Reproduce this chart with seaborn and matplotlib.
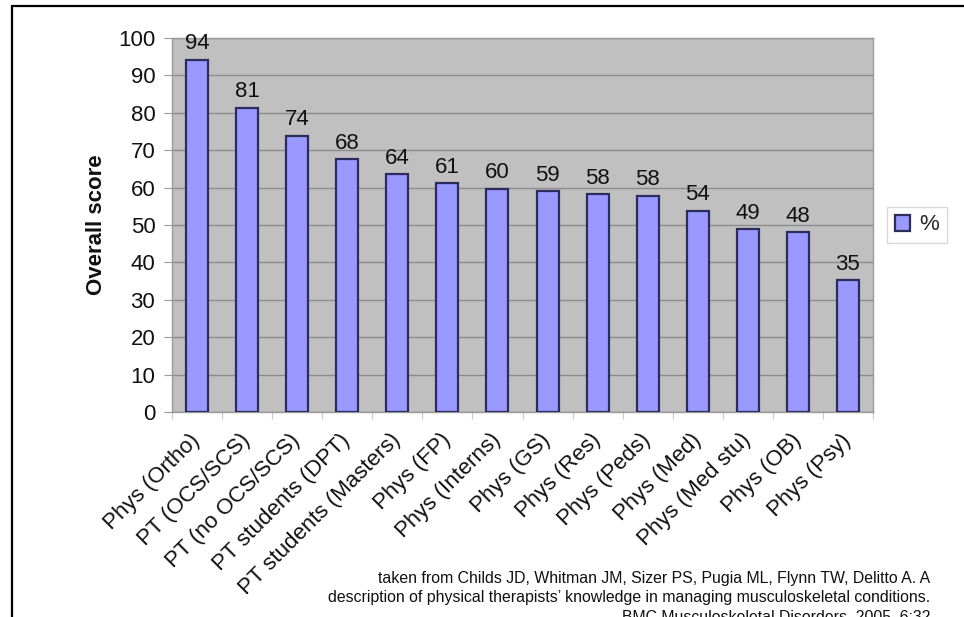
import matplotlib
matplotlib.use("Agg")
import matplotlib.pyplot as plt
import seaborn as sns
import pandas as pd
import numpy as np
from matplotlib.lines import Line2D

categories = ["Phys (Ortho)", "PT (OCS/SCS)", "PT (no OCS/SCS)", "PT students (DPT)",
              "PT students (Masters)", "Phys (FP)", "Phys (Interns)", "Phys (GS)",
              "Phys (Res)", "Phys (Peds)", "Phys (Med)", "Phys (Med stu)", "Phys (OB)",
              "Phys (Psy)"]
values = [94.2, 81.3, 73.9, 67.6, 63.6, 61.1, 59.7, 59.0, 58.2, 57.8, 53.8, 48.8, 48.0, 35.2]
series = ["%"] * len(categories)
yticks = list(range(0, 101, 10))
credit = ("taken from Childs JD, Whitman JM, Sizer PS, Pugia ML, Flynn TW, Delitto A. A\n"
          "description of physical therapists\u2019 knowledge in managing musculoskeletal conditions.\n"
          "BMC Musculoskeletal Disorders. 2005, 6:32")

df = pd.DataFrame({"cat": categories, "val": values, "series": series})

sns.set_theme(style="white")
plt.rcParams["font.family"] = ["Liberation Sans", "DejaVu Sans"]

W, H = 964, 617
fig = plt.figure(figsize=(W / 100, H / 100), dpi=100)
ax = fig.add_axes([172 / W, 1 - 412 / H, 701 / W, 374 / H])
ax.set_facecolor("#C0C0C0")

sns.barplot(data=df, x="cat", y="val", hue="series", palette=["#9999FF"],
            saturation=1, edgecolor="#2B2B5E", linewidth=1.6, width=0.44,
            ax=ax, zorder=3)

ax.set_ylim(0, 100)
ax.set_xlim(-0.5, len(categories) - 0.5)
ax.set_yticks(yticks)
ax.yaxis.grid(True, color="#8C8C8C", linewidth=1.0, zorder=0)
ax.set_axisbelow(True)
for s in ax.spines.values():
    s.set_color("#9A9A9A")
    s.set_linewidth(1.0)

ax.bar_label(ax.containers[0], labels=[f"{v:.0f}" for v in values], padding=4,
             fontsize=16, color="#111111")

ax.tick_params(axis="y", labelsize=16, colors="#111111", length=6, width=0.8,
               left=True, pad=6, color="#9A9A9A")
ax.tick_params(axis="x", which="major", labelsize=16, length=0, pad=18)
ax.set_xticks(np.arange(len(categories) + 1) - 0.5, minor=True)
ax.tick_params(axis="x", which="minor", bottom=True, length=5, width=0.8,
               color="#C8C8C8")
for lab in ax.get_xticklabels():
    lab.set_rotation(45)
    lab.set_ha("right")
    lab.set_va("center")
    lab.set_rotation_mode("anchor")
    lab.set_color("#111111")

ax.set_xlabel("")
ax.set_ylabel("Overall score", fontsize=16, fontweight="bold", color="#111111")
ax.yaxis.set_label_coords(-0.093, 0.5)

leg = ax.legend(loc="center", bbox_to_anchor=(917 / W, 1 - 225 / H),
                bbox_transform=fig.transFigure, fontsize=16, frameon=True,
                fancybox=False, handlelength=0.7, handleheight=0.7,
                handletextpad=0.4, borderpad=0.35)
leg.get_frame().set_edgecolor("#D0D0D0")
leg.get_frame().set_linewidth(1.0)

fig.text(930 / W, 1 - 571 / H, credit, ha="right", va="top", fontsize=11.4,
         linespacing=1.36, color="#111111")

# partial outer frame (left and top edges)
fig.add_artist(Line2D([11.5 / W, 11.5 / W], [0, 1 - 6 / H], color="black",
                      linewidth=1.6, transform=fig.transFigure))
fig.add_artist(Line2D([11.5 / W, 1], [1 - 6 / H, 1 - 6 / H], color="black",
                      linewidth=1.6, transform=fig.transFigure))

fig.savefig("out.png", dpi=100, facecolor="white")
